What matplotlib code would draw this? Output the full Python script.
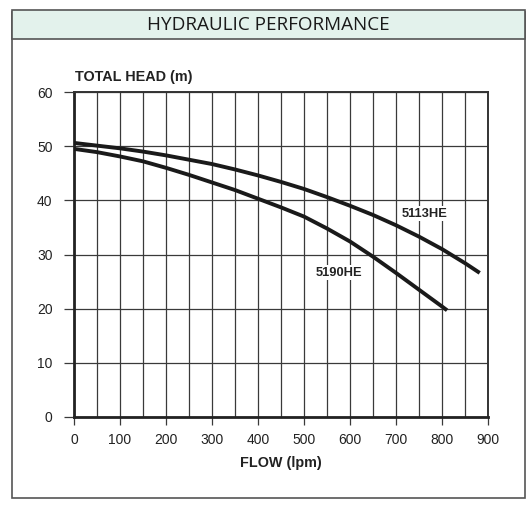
import matplotlib
matplotlib.use("Agg")
import matplotlib.pyplot as plt
from matplotlib.patches import Rectangle

# ---- data ----
flow_5113 = [0, 50, 100, 150, 200, 250, 300, 350, 400, 450, 500, 550, 600,
             650, 700, 750, 800, 850, 882]
head_5113 = [50.6, 50.1, 49.6, 49.0, 48.3, 47.5, 46.7, 45.7, 44.6, 43.4, 42.1,
             40.6, 39.0, 37.3, 35.4, 33.3, 31.0, 28.4, 26.6]
flow_5190 = [0, 50, 100, 150, 200, 250, 300, 350, 400, 450, 500, 550, 600,
             650, 700, 750, 800, 811]
head_5190 = [49.5, 48.9, 48.1, 47.2, 46.0, 44.7, 43.3, 41.9, 40.3, 38.7, 37.0,
             34.8, 32.4, 29.6, 26.6, 23.5, 20.4, 19.7]
x_ticks = list(range(0, 901, 100))
y_ticks = list(range(0, 61, 10))
title = "HYDRAULIC PERFORMANCE"

plt.rcParams['font.family'] = ['Liberation Sans', 'DejaVu Sans']

W, H = 530, 505
fig = plt.figure(figsize=(W / 100, H / 100), dpi=100)

def fx(px):
    return px / W

def fy(py):
    return 1 - py / H

# outer frame and header band
fig.patches.append(Rectangle((fx(12), fy(498)), fx(525) - fx(12), fy(12) - fy(498),
                             transform=fig.transFigure, facecolor='white',
                             edgecolor='#555555', linewidth=1.2, zorder=-2))
fig.patches.append(Rectangle((fx(12), fy(39)), fx(525) - fx(12), fy(10) - fy(39),
                             transform=fig.transFigure, facecolor='#e3f2ec',
                             edgecolor='#555555', linewidth=1.2, zorder=-1))
fig.text(fx(268.5), fy(24.5), title, ha='center', va='center',
         fontsize=13.6, family=['Open Sans', 'DejaVu Sans'], color='#1a1a1a')

ax = fig.add_axes([fx(74), fy(417), fx(488) - fx(74), fy(92) - fy(417)])
ax.set_zorder(5)
ax.patch.set_alpha(0)
ax.set_xlim(0, 900)
ax.set_ylim(0, 60)
ax.set_xticks(x_ticks)
ax.set_xticks(list(range(50, 900, 100)), minor=True)
ax.set_yticks(y_ticks)
ax.grid(True, which='both', color='#3a3a3a', linewidth=0.9)
ax.tick_params(axis='y', length=7.5, width=0.9, color='#3a3a3a', pad=8, labelsize=10)
ax.tick_params(axis='x', which='major', length=5.5, width=0.9, color='#3a3a3a', pad=6, labelsize=10)
ax.tick_params(axis='x', which='minor', length=0)
for side in ['left', 'bottom']:
    ax.spines[side].set_linewidth(2.0)
    ax.spines[side].set_color('#222222')
for side in ['top', 'right']:
    ax.spines[side].set_linewidth(1.4)
    ax.spines[side].set_color('#333333')
for lbl in ax.get_xticklabels() + ax.get_yticklabels():
    lbl.set_color('#222222')

ax.plot(flow_5113, head_5113, color='#1a1a1a', linewidth=2.8,
        solid_capstyle='butt', solid_joinstyle='round', zorder=3)
ax.plot(flow_5190, head_5190, color='#1a1a1a', linewidth=2.8,
        solid_capstyle='butt', solid_joinstyle='round', zorder=3)

ax.text(763, 37.5, "5113HE", ha='center', va='center', fontsize=9.3,
        fontweight='bold', color='#222222', zorder=4,
        bbox=dict(facecolor='white', edgecolor='none', pad=1.0))
ax.text(576, 26.6, "5190HE", ha='center', va='center', fontsize=9.3,
        fontweight='bold', color='#222222', zorder=4,
        bbox=dict(facecolor='white', edgecolor='none', pad=1.0))

fig.text(fx(75), fy(77), "TOTAL HEAD (m)", ha='left', va='center',
         fontsize=10.4, fontweight='bold', color='#222222')
fig.text(fx(281), fy(463), "FLOW (lpm)", ha='center', va='center',
         fontsize=10.4, fontweight='bold', color='#222222')

fig.savefig("out.png", dpi=100)
